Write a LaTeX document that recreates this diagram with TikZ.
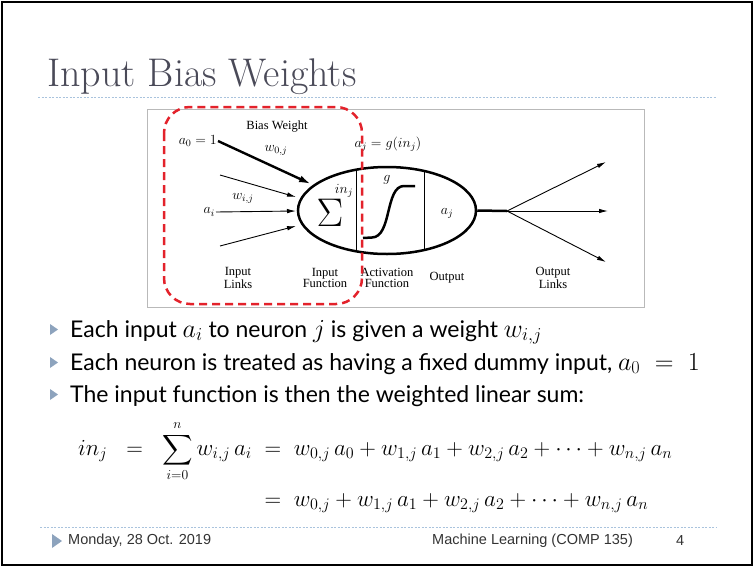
\RequirePackage{fix-cm}
\documentclass[tikz,border=0pt]{standalone}
\usepackage{amsmath}
\usepackage{fontspec}
\setmainfont{Liberation Serif}
\newfontfamily\titlefont{Latin Modern Roman}
\newfontfamily\bodyfont{Lato}
\newfontfamily\footfont{Liberation Sans}
\usepackage{tikz}
\usetikzlibrary{arrows.meta,positioning,calc,shapes.geometric}
\definecolor{titlegray}{HTML}{4A4A58}
\definecolor{ruleblue}{HTML}{A9C3DD}
\definecolor{bulletblue}{HTML}{8DA3BD}
\definecolor{dashred}{HTML}{E3222B}
\newcommand{\bmath}[1]{{\fontsize{26}{26}\selectfont$#1$}}
\newcommand{\eqlhs}{in_j \;\;=\;\; \scalebox{0.85}{$\displaystyle\sum_{i=0}^{n}$}\, w_{i,j}\,a_i}

\begin{document}
\begin{tikzpicture}[
    x=1pt, y=-1pt,
    lbl/.style={font=\fontsize{12.5}{11}\selectfont, align=center, inner sep=0pt},
    mlbl/.style={font=\fontsize{14}{15}\selectfont, inner sep=1pt},
    inarr/.style={-{Latex[length=9pt,width=4.5pt]}, line width=0.9pt},
    biasarr/.style={-{Latex[length=12pt,width=7pt]}, line width=2.4pt},
    thickline/.style={line width=2.5pt},
    bodytxt/.style={font=\bodyfont\fontsize{23}{26}\selectfont, anchor=base west, inner sep=0pt},
    eqline/.style={font=\fontsize{23}{26}\selectfont, anchor=base west, inner sep=0pt},
    foottxt/.style={font=\footfont\fontsize{14.5}{16}\selectfont, text=black!80, anchor=west, inner sep=0pt},
    dotrule/.style={ruleblue, line width=0.8pt, dash pattern=on 2pt off 1.5pt},
  ]
    \useasboundingbox (0,0) rectangle (755,568);
    % slide frame
    \draw[line width=2.5pt] (2,2) rectangle (752,565);

    % Title and rule
    \node[anchor=base west, inner sep=0pt, font=\titlefont\fontsize{40}{42}\selectfont,
          text=titlegray] (title) at (47,86) {Input Bias Weights};
    \draw[dotrule] (38,97) -- (717,97);

    % Figure frame
    \draw[gray!55, line width=1pt] (147,109) rectangle (644,307);

    % Neuron body
    \node[ellipse, draw, thickline, minimum width=178pt, minimum height=87pt,
          inner sep=0pt] (neuron) at (387,210.5) {};
    \draw[line width=1pt] ($(neuron.center)+(-31,-40.8)$) -- ($(neuron.center)+(-31,40.8)$);
    \draw[line width=1pt] ($(neuron.center)+(37,-39.6)$) -- ($(neuron.center)+(37,39.6)$);
    \node[font=\fontsize{40}{40}\selectfont, inner sep=0pt] (sum) at (330,213) {$\Sigma$};
    \node[mlbl] (inj) at (344,191) {$in_j$};
    \node[mlbl] (g) at (387,180) {$g$};
    \node[mlbl] (aj) at (447,213) {$a_j$};
    \node[mlbl] (act) at (388,144) {$a_j = g(in_j)$};
    % sigmoid
    \draw[thickline] (363,238) -- (372,237.5) .. controls (392,237) and (385,186) .. (404,186) -- (415,186);

    % Inputs
    \node[mlbl, anchor=east] (a0) at (218,141) {$a_0 = 1$};
    \node[mlbl, anchor=east] (ai) at (216,212) {$a_i$};
    \coordinate (s1) at (220,175);
    \coordinate (s3) at (220,246);
    \coordinate (t0) at (311,184);
    \coordinate (t1) at (296,197);
    \coordinate (t2) at (296,211);
    \coordinate (t3) at (296,226);
    \draw[biasarr] (a0.east) -- (t0);
    \draw[inarr] (s1) -- (t1);
    \draw[inarr] (ai.east) -- (t2);
    \draw[inarr] (s3) -- (t3);
    \node[lbl] (bias) at (277,127) {Bias Weight};
    \node[mlbl] (w0) at (276,150) {$w_{0,j}$};
    \node[mlbl] (wi) at (243,198) {$w_{i,j}$};

    % Outputs
    \coordinate (fork) at (507,211);
    \coordinate (o1) at (606,162);
    \coordinate (o2) at (608,211);
    \coordinate (o3) at (606,262);
    \draw[thickline] (neuron.east) -- (fork);
    \draw[inarr] (fork) -- (o1);
    \draw[inarr] (fork) -- (o2);
    \draw[inarr] (fork) -- (o3);

    % Captions
    \node[lbl] (inlinks) at (238,278) {Input\\Links};
    \node[lbl] (infun) at (325,278) {Input\\Function};
    \node[lbl] (actfun) at (387,278) {Activation\\Function};
    \node[lbl] (outlbl) at (447,278) {Output};
    \node[lbl] (outlinks) at (553,278) {Output\\Links};

    % Highlight
    \draw[dashred, line width=2.5pt, dash pattern=on 8pt off 5pt, rounded corners=26pt]
      (164,107) rectangle (362,304);

    % Bullets
    \node[bodytxt] (b1) at (70,337) {Each input \bmath{a_i} to neuron \bmath{j} is given a weight \bmath{w_{i,j}}};
    \node[bodytxt] (b2) at (70,370) {Each neuron is treated as having a fixed dummy input, \bmath{a_0\;=\;1}};
    \node[bodytxt] (b3) at (70,402) {The input function is then the weighted linear sum:};
    \foreach \b in {b1,b2,b3}
      \fill[bulletblue] ($(\b.base west)+(-20,-2)$) -- ++(0,-11) -- ++(8,5.5) -- cycle;

    % Equation
    \node[eqline] (eq1) at (78,455)
      {$\eqlhs \;=\; w_{0,j}\,a_0 + w_{1,j}\,a_1 + w_{2,j}\,a_2 + \cdots + w_{n,j}\,a_n$};
    \node[eqline] (eq2) at (78,506)
      {$\hphantom{\eqlhs} \;=\; w_{0,j} + w_{1,j}\,a_1 + w_{2,j}\,a_2 + \cdots + w_{n,j}\,a_n$};

    % Footer
    \draw[dotrule] (40,527) -- (717,527);
    \fill[bulletblue] (52,534) -- (52,548) -- (62,541) -- cycle;
    \node[foottxt] (date) at (68,541) {Monday, 28 Oct. 2019};
    \node[foottxt] (course) at (432,541) {Machine Learning (COMP 135)};
    \node[foottxt] (page) at (676,541) {4};
  \end{tikzpicture}
\end{document}
